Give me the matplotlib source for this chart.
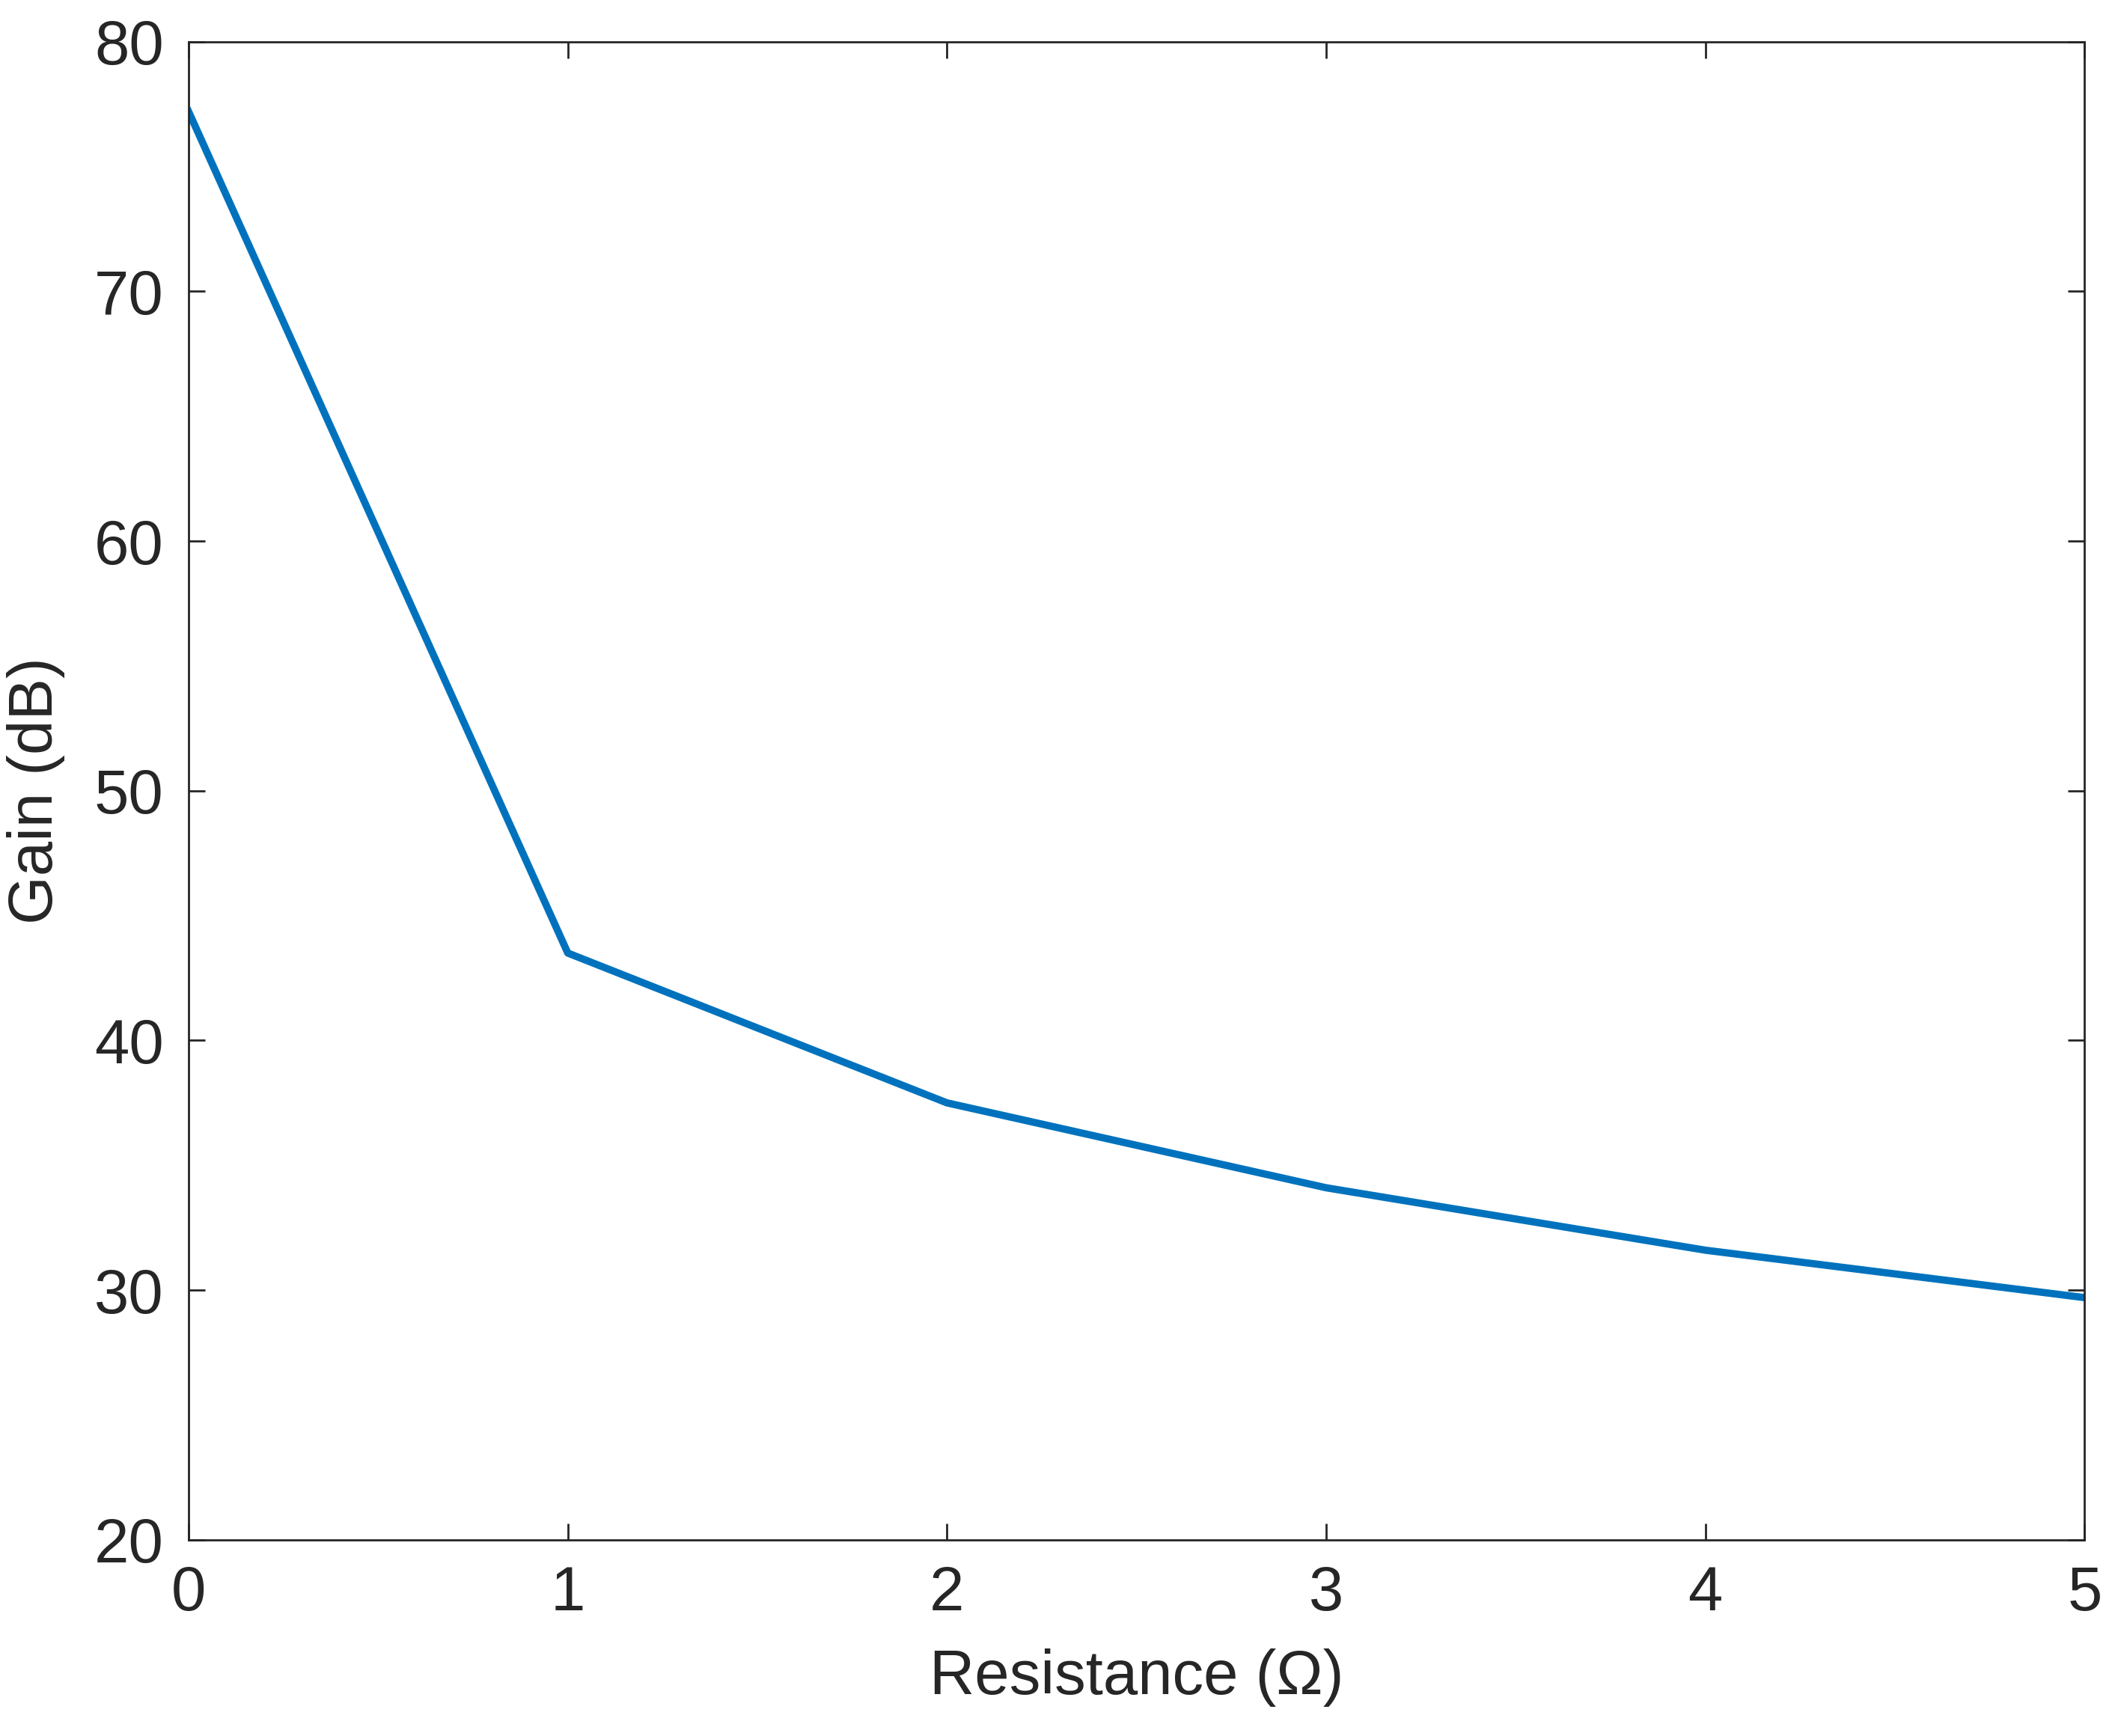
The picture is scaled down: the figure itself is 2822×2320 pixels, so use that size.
import matplotlib
matplotlib.use("Agg")
import matplotlib.pyplot as plt

resistance = [0, 1, 2, 3, 4, 5]
gain = [77.2, 43.5, 37.5, 34.1, 31.6, 29.7]
xticks = [0, 1, 2, 3, 4, 5]
yticks = [20, 30, 40, 50, 60, 70, 80]

plt.rcParams['font.family'] = ['Liberation Sans', 'DejaVu Sans']
fig = plt.figure(figsize=(14.11, 11.6), dpi=200)
ax = fig.add_axes([0.0893, 0.113, 0.8977, 0.863])
ax.plot(resistance, gain, color='#0072BD', lw=3.5)
ax.set_xlim(0, 5)
ax.set_ylim(20, 80)
ax.set_xticks(xticks)
ax.set_yticks(yticks)
tc = '#262626'
ax.tick_params(direction='in', top=True, right=True, labelsize=30, colors=tc,
               length=8, width=1, pad=12)
for s in ax.spines.values():
    s.set_color(tc)
    s.set_linewidth(1)
ax.set_xlabel('Resistance (Ω)', fontsize=30, color=tc, labelpad=12)
ax.set_ylabel('Gain (dB)', fontsize=30, color=tc, labelpad=14)
fig.savefig('out.png', dpi=200)
